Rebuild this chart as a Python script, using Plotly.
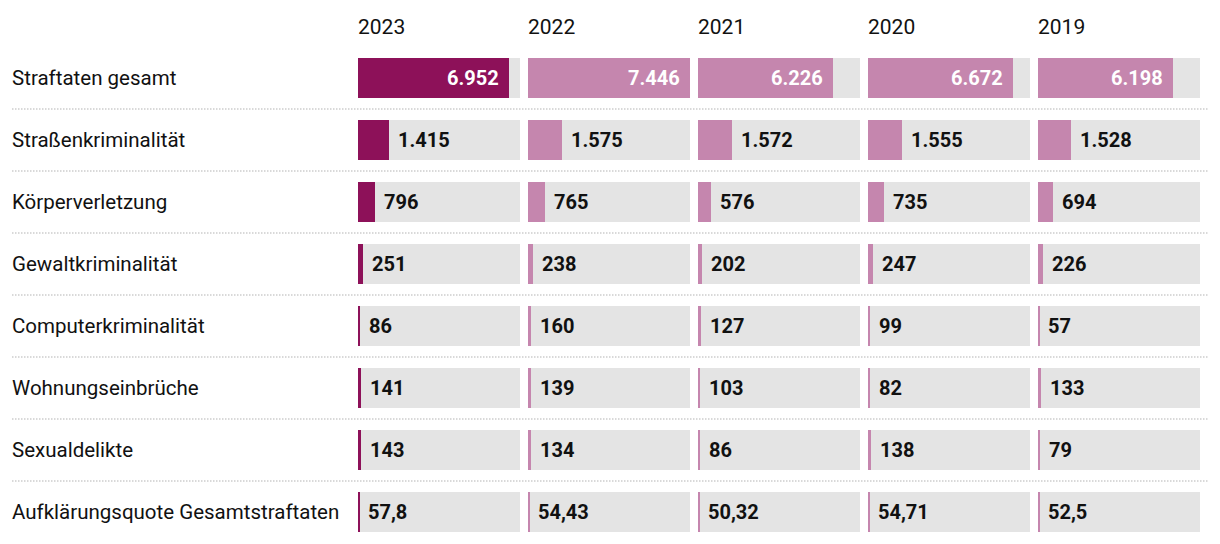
import plotly.graph_objects as go

categories = [
    "Straftaten gesamt",
    "Straßenkriminalität",
    "Körperverletzung",
    "Gewaltkriminalität",
    "Computerkriminalität",
    "Wohnungseinbrüche",
    "Sexualdelikte",
    "Aufklärungsquote Gesamtstraftaten",
]
years = ["2023", "2022", "2021", "2020", "2019"]
values_2023 = [6952, 1415, 796, 251, 86, 141, 143, 57.8]
values_2022 = [7446, 1575, 765, 238, 160, 139, 134, 54.43]
values_2021 = [6226, 1572, 576, 202, 127, 103, 86, 50.32]
values_2020 = [6672, 1555, 735, 247, 99, 82, 138, 54.71]
values_2019 = [6198, 1528, 694, 226, 57, 133, 79, 52.5]
series = [values_2023, values_2022, values_2021, values_2020, values_2019]

# the page places the figure 8px from the top-left corner
OFF = 8
W, H = 1220 - OFF, 544 - OFF
DARK = "#8D1159"
LIGHT = "#C586AE"
GRAY = "#E4E4E4"
FONT = "Roboto"


def px(xpage):
    return (xpage - OFF) / W


def py(ypage):
    return 1 - (ypage - OFF) / H


vmax = max(max(s) for s in series)


def fmt(v):
    if float(v).is_integer():
        return f"{int(v):,}".replace(",", ".")
    s = f"{v:.2f}".rstrip("0").rstrip(".")
    return s.replace(".", ",")


fig = go.Figure()
annotations = []
col_start, col_width, col_pitch = 358, 162, 170

layout_axes = {}
for j, (year, vals) in enumerate(zip(years, series)):
    xa = "x" if j == 0 else f"x{j+1}"
    key = "xaxis" if j == 0 else f"xaxis{j+1}"
    left = col_start + col_pitch * j
    layout_axes[key] = dict(domain=[px(left), px(left + col_width)], range=[0, vmax],
                            anchor="y", visible=False, fixedrange=True)
    color = DARK if j == 0 else LIGHT
    fig.add_trace(go.Bar(y=categories, x=[vmax] * len(categories), orientation="h",
                         marker=dict(color=GRAY, line=dict(width=0)), width=0.645,
                         xaxis=xa, yaxis="y", hoverinfo="skip", showlegend=False))
    fig.add_trace(go.Bar(y=categories, x=vals, orientation="h",
                         marker=dict(color=color, line=dict(width=0)), width=0.645,
                         xaxis=xa, yaxis="y", hoverinfo="skip", showlegend=False))
    annotations.append(dict(text=year, xref="paper", yref="paper", x=px(left - 2),
                            y=py(27), xanchor="left", yanchor="middle", showarrow=False,
                            font=dict(family=FONT, size=21, color="#111111")))
    for cat, v in zip(categories, vals):
        inside = v > vmax * 0.5
        annotations.append(dict(
            text=fmt(v), xref=xa, yref="y", x=v, y=cat,
            xanchor="right" if inside else "left", xshift=-8 if inside else 7,
            yanchor="middle", showarrow=False,
            font=dict(family=FONT, size=20, weight=700,
                      color="#FFFFFF" if inside else "#111111")))

for cat in categories:
    annotations.append(dict(text=cat, xref="paper", yref="y", x=px(10), y=cat,
                            xanchor="left", yanchor="middle", showarrow=False,
                            font=dict(family=FONT, size=20.5, color="#111111")))

shapes = []
for i in range(len(categories) - 1):
    shapes.append(dict(type="line", xref="paper", yref="y", x0=px(12), x1=px(1208),
                       y0=i + 0.5, y1=i + 0.5,
                       line=dict(color="#CDCDCD", width=1.5, dash="1.5px,1.5px")))

fig.update_layout(
    width=W, height=H,
    margin=dict(l=0, r=0, t=0, b=0),
    paper_bgcolor="white", plot_bgcolor="white",
    barmode="overlay", bargap=0,
    hovermode=False,
    yaxis=dict(type="category", categoryorder="array", categoryarray=categories,
               autorange="reversed", domain=[py(543), py(47)], visible=False,
               fixedrange=True),
    annotations=annotations, shapes=shapes,
    **layout_axes,
)

fig.write_html("out.html")
